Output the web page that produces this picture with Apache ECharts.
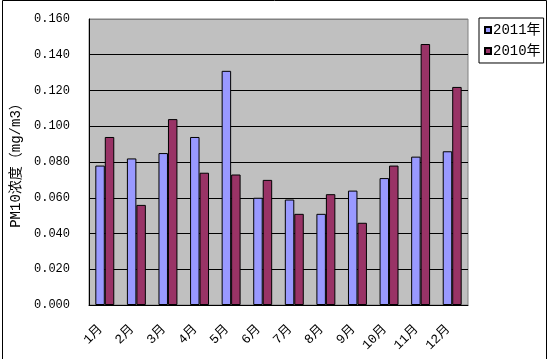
<!DOCTYPE html>
<html><head><meta charset="utf-8">
<script src="https://cdn.jsdelivr.net/npm/echarts@6/dist/echarts.min.js"></script>
<style>html,body{margin:0;padding:0;background:#fff}#c{width:548px;height:359px}</style>
</head><body><div id="c"></div>
<script>
const categories = ['1月','2月','3月','4月','5月','6月','7月','8月','9月','10月','11月','12月'];
const seriesNames = ['2011年','2010年'];
const values2011 = [0.078,0.082,0.085,0.094,0.131,0.060,0.059,0.051,0.064,0.071,0.083,0.086];
const values2010 = [0.094,0.056,0.104,0.074,0.073,0.070,0.051,0.062,0.046,0.078,0.146,0.122];
const yTicks = {min:0, max:0.16, interval:0.02};
const yName = 'PM10浓度（mg/m3）';

const FONT = "'Liberation Mono','Noto Sans CJK SC',monospace";
const chart = echarts.init(document.getElementById('c'), null, {renderer:'canvas'});
chart.setOption({
  animation:false,
  backgroundColor:'#fff',
  grid:{left:89,top:19,right:80,bottom:54,show:true,backgroundColor:'#C0C0C0',borderColor:'#808080',borderWidth:1},
  legend:{
    orient:'vertical', left:479, top:18, data:seriesNames,
    borderColor:'#000', borderWidth:1, padding:[5,3,5,5],
    itemWidth:6, itemHeight:6, itemGap:7, icon:'rect',
    textStyle:{fontFamily:FONT,fontSize:14,color:'#000',padding:[0,0,0,-3]}
  },
  xAxis:{
    type:'category', data:categories,
    axisLine:{lineStyle:{color:'#000',width:1}},
    axisTick:{inside:true,length:4,lineStyle:{color:'#000'}},
    axisLabel:{rotate:45,margin:18,fontFamily:FONT,fontSize:13,color:'#000',padding:[0,6,0,0]}
  },
  yAxis:{
    type:'value', min:yTicks.min, max:yTicks.max, interval:yTicks.interval,
    name:yName, nameLocation:'middle', nameGap:56, nameRotate:90,
    nameTextStyle:{fontFamily:FONT,fontSize:14,color:'#000'},
    axisLine:{show:true,lineStyle:{color:'#000'}},
    axisTick:{show:false},
    axisLabel:{formatter:v=>v.toFixed(3),margin:19,fontFamily:FONT,fontSize:12,color:'#000'},
    splitLine:{lineStyle:{color:['#000','#000','#000','#000','#000','#000','#000','#000','#808080'],width:1}}
  },
  series:[
    {name:seriesNames[0],type:'bar',data:values2011,barGap:'0%',barCategoryGap:'40%',
     itemStyle:{color:'#9999FF',borderColor:'#000',borderWidth:1}},
    {name:seriesNames[1],type:'bar',data:values2010,barGap:'0%',barCategoryGap:'40%',
     itemStyle:{color:'#993366',borderColor:'#000',borderWidth:1}}
  ],
  graphic:[{type:'rect',shape:{x:2.5,y:0.5,width:544,height:400},style:{fill:null,stroke:'#000',lineWidth:1},silent:true}]
});
</script></body></html>
